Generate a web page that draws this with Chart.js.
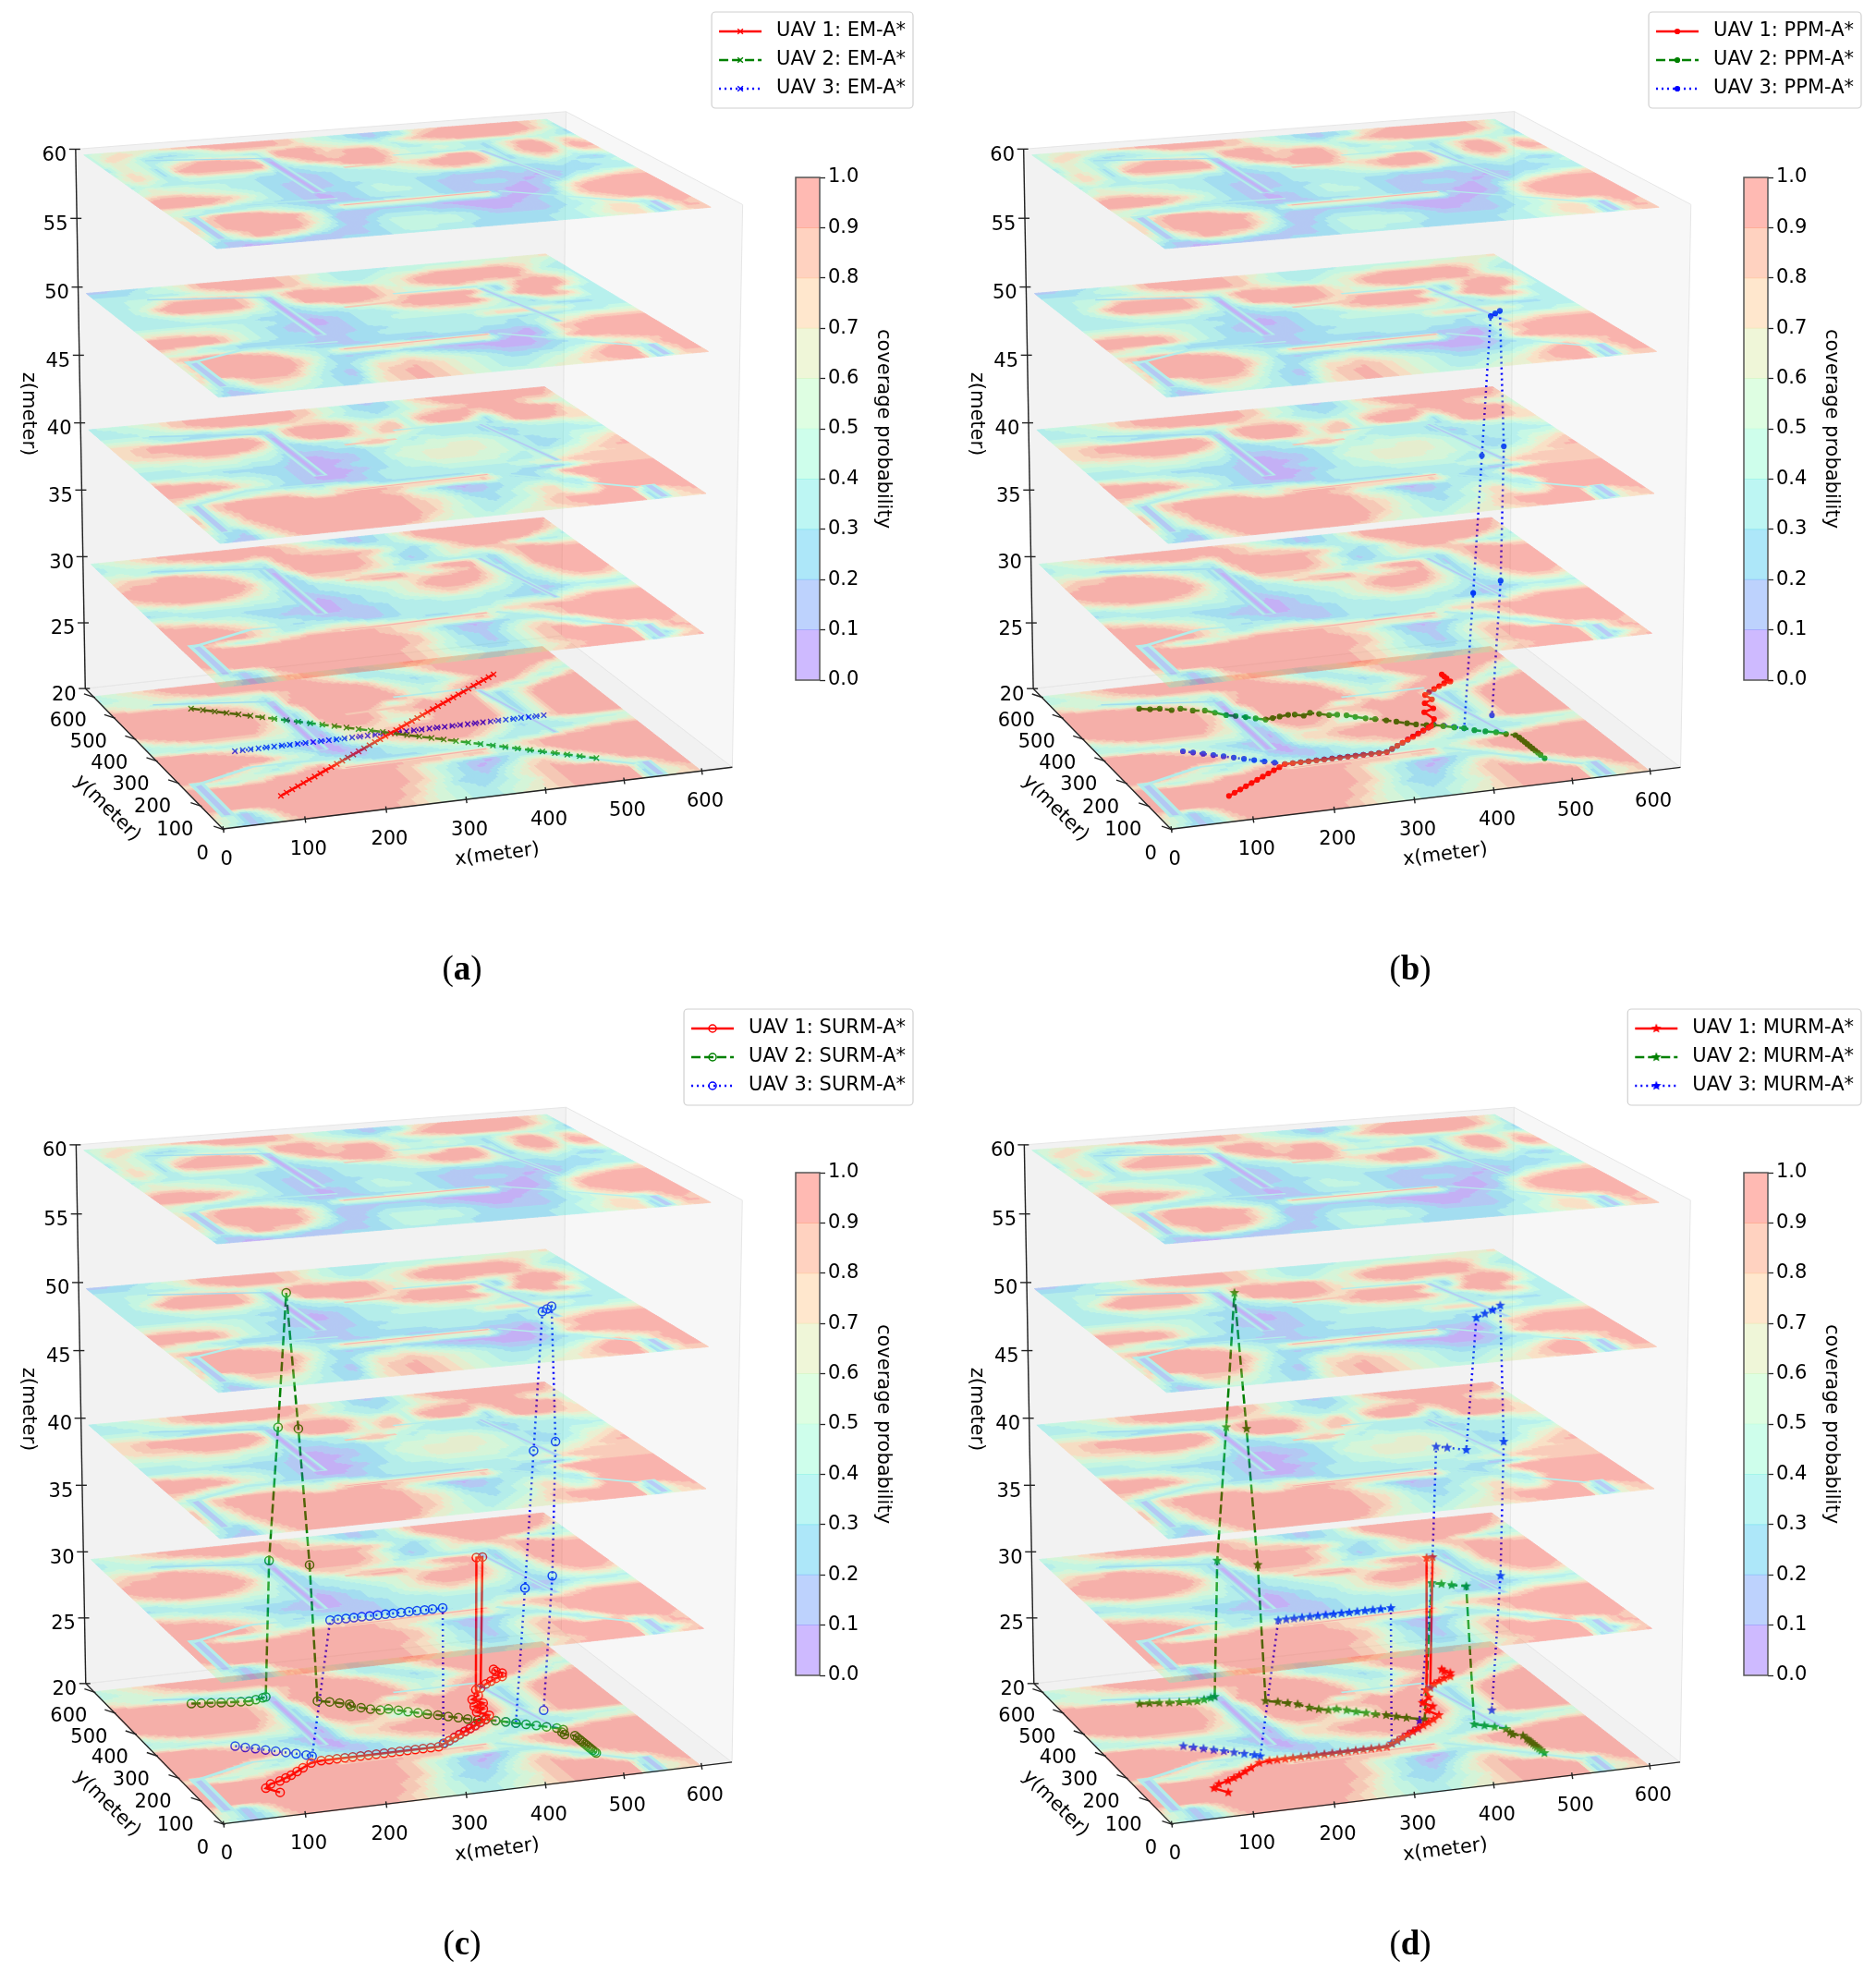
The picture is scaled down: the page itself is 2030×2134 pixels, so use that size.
<!DOCTYPE html>
<html>
<head>
<meta charset="utf-8">
<title>UAV paths over coverage maps</title>
<script src="https://cdn.jsdelivr.net/npm/chart.js"></script>
<style>
html, body { margin: 0; padding: 0; background: #fff; }
#page { position: relative; width: 2030px; height: 2134px; overflow: hidden; }
#page canvas { position: absolute; }
.cap { position: absolute; transform: translate(-50%, -50%); font: 37px "Liberation Serif", serif; color: #000; }
</style>
</head>
<body>
<div id="page"></div>
<script>
// ticks
const xTicks = [0, 100, 200, 300, 400, 500, 600];
const yTicks = [0, 100, 200, 300, 400, 500, 600];
const zTicks = [20, 25, 30, 35, 40, 45, 50, 55, 60];
const cbTicks = [0, 0.1, 0.2, 0.3, 0.4, 0.5, 0.6, 0.7, 0.8, 0.9, 1];
const cbBands = [0.1, 0.1, 0.1, 0.1, 0.1, 0.1, 0.1, 0.1, 0.1, 0.1];
const bandRgb = ['102,40,254', '51,116,248', '0,180,236', '51,227,218', '102,252,194',
                 '153,252,165', '204,227,133', '255,180,98', '255,116,59', '255,40,20'];

// coverage bands, one digit per node (0 = 0.0-0.1 ... 9 = 0.9-1.0)
// rows go from y=600 down to y=0 in 25 m steps, columns x=0..600 in 20 m steps
const coverage20 = [
"4567899999999765434568999999999",
"3456789999999876433457899999999",
"5555667888899987533346899999998",
"7654323345478999874323589999865",
"9999887654279999986433468898644",
"9999999875189999997545789985358",
"9999999986159999998546898535899",
"9999999987139999846868952479999",
"8999999986139998688999942589999",
"5789999976128998667899952589999",
"3456777765116887556999952589999",
"4433334444205667788999952588898",
"9998764321015778999998644689999",
"9999987432003567889987523344444",
"9999999754101235678875333334556",
"9999864333321233345543334678899",
"9997543478643222333445789999999",
"7543568899888888878844689999999",
"9999999999999875421023258999999",
"9999999999999875320136744799999",
"9999999999999875321357873469999",
"8999999999998764222467899845798",
"7415899999998754323457899992688",
"6413799999987654334567899991568",
"5313689999887654334667889991677"];
const coverage30 = [
"4567889999987643212368999999998",
"3456788999998754212358999999997",
"3444456788788777643346899999986",
"5543223334389988886323689999753",
"6778876433279989863224678864334",
"7888998753169989864124645788766",
"8899999863138888763333332689999",
"8999999974126776544689941589999",
"7899999864123468996567851589999",
"5678887653123345567889852479999",
"3345555443112334568999752468998",
"2333333333101233567887642357887",
"6543332221001233456765432245665",
"8776543211001123334443321123333",
"9998764332111123333333221345445",
"9999876323321123333334554678888",
"9999975345665433223457788899999",
"8874346788888777677843578899999",
"9999999999998764210123258999999",
"9999999999999875311246733799999",
"9999999999999875321357883479998",
"7899999999998764321357899983687",
"6314899999998764322357899992688",
"5413789999998765433356789992158",
"4313689999887654334567889991688"];
const coverage40 = [
"3445678999999875421247899999998",
"3344578999999875422246799999997",
"3334456788988764332346678888776",
"4443332333456776433467888888655",
"6664322223179998657489996899985",
"7789999997179998578479962799976",
"7788999998248997587433332699877",
"6777899986123345654333323345566",
"5566677654122338843433321333345",
"4444555443111223344555432333333",
"3334444332001123455566543233445",
"3333322221000123556666543223567",
"7655433221001223456665543234678",
"9998754321000123445555434456788",
"9999865321001233334444334567777",
"8875433221111233333333456788888",
"7533456654654222222333210367777",
"4378999865788877777832248999999",
"6379999999998753101233236999999",
"8368999999999865311234532799999",
"8258999999999876422346743899999",
"7357999999999876432346755899998",
"5226899999999875433457888992688",
"4215799999999765434567889991578",
"3114689999987655445666788991677"];
const coverage50 = [
"1122356899998764333344444555667",
"2223446899998754333444555566654",
"3333334679998754334567888887643",
"3344666555556765445689999998533",
"3345899986279989975689999997543",
"3358999986169989976567876678753",
"3347999985159999976544442699963",
"3334566654134688768999961799853",
"3333444433123345688999626998433",
"3333333322112233478899852588733",
"5555544332101233345666543255433",
"6776654321101233444444433322233",
"9999864321011233333336777653333",
"9999864322111223333333322233344",
"7653322222112233333333234556666",
"5544322221112222233322235678888",
"7899876432211221111111027899999",
"5899998543677777666710026899999",
"6899999752111211000000148999999",
"5899999742234543211000123678999",
"6899998532366765432111233456789",
"7358887421477876543223346893798",
"5247765321578876543334568992688",
"4125654322678876543345678991588",
"3113443323678876544456677881677"];
const coverage60 = [
"4566678999998754321236789999874",
"4676434589998754321237899999863",
"4763223456666765433578999999863",
"4653344443389976664356788887542",
"3653578876389878985334433344432",
"3652789998268978986445432688475",
"4752899999247889985433332699587",
"5762677776133589975569952799598",
"4643444433123346767899952688477",
"3433333322112333456899852475345",
"4655443322112333345676643343213",
"5665543321112333333233222232334",
"7887654321112233322111121222233",
"9999875321122343321111110122333",
"9998754321012344321122101134567",
"6544322221012333321111012367888",
"5432344321111223321110014789999",
"6579986432556666555610015899999",
"7689999852111111000000126899999",
"7689999751112221100001235789999",
"7589999741123332210011234678889",
"6468888531134444321111234653798",
"5258875311234444322222345772687",
"3113321111234433222223346771588",
"2100111122233333222223345671677"];
const layerZ = [20, 30, 40, 50, 60];
const layerRows = [coverage20, coverage30, coverage40, coverage50, coverage60];

// narrow streets too thin for the grid: [x0, y0, x1, y1, half width in metres, band]
const coverageStreets = [
  [200,495,200,262,9,3],[200,492,200,264,5,1],[200,470,200,268,2.5,0],
  [20,190,20,45,9,3],[20,185,20,50,4,1],
  [550,68,550,4,9,3],[550,64,550,6,4,1],
  [200,181,390,190,5,7],[205,181,388,190,2,9],
  [15,180,100,228,4,3],[100,228,210,222,3.5,3],
  [60,535,200,492,3.5,2],
  [272,400,340,405,4,8],
  [460,442,490,222,5,3],[460,438,490,226,2,1],
  [350,450,460,450,3.5,3],
  [400,190,536,60,3.5,3]
];

// UAV paths as [x, y, z] in metres
const emUav1 = [[100,100,20],[110,110,20],[120,120,20],[130,130,20],[140,140,20],[150,150,20],[160,160,20],[170,170,20],[180,180,20],[190,190,20],[200,200,20],[210,210,20],[220,220,20],[230,230,20],[240,240,20],[250,250,20],[260,260,20],[270,270,20],[280,280,20],[290,290,20],[300,300,20],[310,310,20],[320,320,20],[330,330,20],[340,340,20],[350,350,20],[360,360,20],[370,370,20],[380,380,20],[390,390,20],[400,400,20],[410,410,20],[420,420,20],[430,430,20],[440,440,20],[450,450,20],[460,460,20],[470,470,20],[480,480,20],[490,490,20],[500,500,20]];
const emUav2 = [[100,500,20],[112,488,20],[124,476,20],[136,464,20],[148,452,20],[160,440,20],[172,428,20],[184,416,20],[196,404,20],[208,392,20],[220,380,20],[232,368,20],[244,356,20],[256,344,20],[268,332,20],[280,320,20],[292,308,20],[304,296,20],[316,284,20],[328,272,20],[340,260,20],[352,248,20],[364,236,20],[376,224,20],[388,212,20],[400,200,20],[412,188,20],[424,176,20],[436,164,20],[448,152,20],[460,140,20],[472,128,20],[484,116,20],[500,100,20]];
const emUav3 = [[100,300,20],[110,300,20],[120,300,20],[130,300,20],[140,300,20],[150,300,20],[160,300,20],[170,300,20],[180,300,20],[190,300,20],[200,300,20],[210,300,20],[220,300,20],[230,300,20],[240,300,20],[250,300,20],[260,300,20],[270,300,20],[280,300,20],[290,300,20],[300,300,20],[310,300,20],[320,300,20],[330,300,20],[340,300,20],[350,300,20],[360,300,20],[370,300,20],[380,300,20],[390,300,20],[400,300,20],[410,300,20],[420,300,20],[430,300,20],[440,300,20],[450,300,20],[460,300,20],[470,300,20],[480,300,20],[490,300,20],[500,300,20]];

const ppmUav1 = [[100,100,20],[110,110,20],[120,120,20],[130,130,20],[140,140,20],[150,150,20],[160,160,20],[170,170,20],[180,180,20],[190,190,20],[200,200,20],[210,200,20],[220,200,20],[230,200,20],[240,200,20],[250,200,20],[260,200,20],[270,200,20],[280,200,20],[290,200,20],[300,200,20],[310,200,20],[320,200,20],[330,200,20],[340,210,20],[350,220,20],[360,230,20],[370,240,20],[380,250,20],[390,260,20],[400,270,20],[410,280,20],[415,285,20],[428,313,20],[426,346,20],[442,358,20],[439,384,20],[453,397,20],[451,419,20],[460,430,20],[470,440,20],[480,450,20],[490,460,20],[500,465,20],[500,480,20],[500,490,20],[500,500,20]];
const ppmUav2 = [[100,500,20],[112,492,20],[124,490,20],[136,478,20],[148,480,20],[160,466,20],[174,460,20],[183,446,20],[193,430,20],[203,422,20],[213,412,20],[223,402,20],[233,392,20],[243,395,20],[253,398,20],[265,401,20],[273,399,20],[282,390,20],[293,399,20],[302,390,20],[312,380,20],[322,378,20],[332,371,20],[340,360,20],[350,349,20],[360,341,20],[371,330,20],[381,320,20],[391,308,20],[400,299,20],[411,291,20],[419,289,20],[429,279,20],[440,268,20],[450,260,20],[459,247,20],[470,237,20],[481,228,20],[490,216,20],[499,207,20],[500,195,20],[500,185,20],[500,175,20],[500,165,20],[500,155,20],[500,145,20],[500,135,20],[500,125,20],[500,115,20],[500,100,20]];
const ppmUav3 = [[100,300,20],[110,290,20],[120,280,20],[130,270,20],[140,260,20],[150,250,20],[160,240,20],[170,230,20],[180,220,20],[190,210,20],[200,200,20],[210,200,20],[220,200,20],[230,200,20],[240,200,20],[250,200,20],[260,200,20],[270,200,20],[280,200,20],[290,200,20],[300,200,20],[310,200,20],[320,200,20],[330,200,20],[340,210,20],[350,220,20],[360,230,20],[370,240,20],[380,250,20],[390,260,20],[400,270,20],[410,280,20],[420,290,20],[430,280,20],[440,270,20],[450,260,20],[460,258,30],[470,258,40],[480,258,50],[490,270,50],[500,282,50],[510,292,40],[510,300,30],[500,300,20]];

const surmUav1 = [[97,94,20],[86,117,20],[96,131,20],[110,139,20],[120,148,20],[129,156,20],[140,168,20],[151,180,20],[166,196,20],[180,200,20],[190,200,20],[200,200,20],[210,200,20],[220,200,20],[230,200,20],[240,200,20],[250,200,20],[260,200,20],[270,200,20],[280,200,20],[290,200,20],[300,200,20],[310,200,20],[320,200,20],[330,200,20],[340,210,20],[350,220,20],[360,230,20],[370,240,20],[380,250,20],[390,260,20],[400,270,20],[410,280,20],[420,290,20],[430,305,20],[420,325,20],[432,335,20],[425,350,20],[440,360,20],[432,380,20],[445,395,20],[450,420,20],[450,420,30],[458,420,30],[458,425,20],[470,440,20],[480,450,20],[490,460,20],[500,465,20],[505,480,20],[500,490,20],[500,500,20]];
const surmUav2 = [[100,500,20],[112,497,20],[124,494,20],[136,490,20],[148,487,20],[160,484,20],[170,482,20],[180,486,20],[190,490,20],[195,493,20],[205,508,30],[215,498,40],[222,482,50],[236,480,40],[246,468,30],[250,450,20],[263,440,20],[273,430,20],[283,420,20],[282,410,20],[292,400,20],[301,389,20],[311,380,20],[322,381,20],[332,371,20],[341,360,20],[351,350,20],[360,340,20],[371,331,20],[381,320,20],[391,310,20],[400,300,20],[410,290,20],[420,290,20],[430,280,20],[440,270,20],[450,260,20],[460,250,20],[470,240,20],[480,230,20],[490,220,20],[495,210,20],[490,200,20],[490,190,20],[500,180,20],[500,170,20],[500,162,20],[500,155,20],[500,148,20],[500,141,20],[500,134,20],[500,127,20],[500,120,20],[500,113,20],[500,106,20],[500,100,20]];
const surmUav3 = [[100,300,20],[110,290,20],[120,280,20],[130,270,20],[140,260,20],[150,250,20],[160,240,20],[170,230,20],[175,222,20],[195,210,30],[205,210,30],[215,210,30],[225,210,30],[235,210,30],[245,210,30],[255,210,30],[265,210,30],[275,210,30],[285,210,30],[295,210,30],[305,210,30],[315,210,30],[325,210,30],[338,210,30],[340,212,20],[350,220,20],[360,230,20],[370,240,20],[380,250,20],[390,260,20],[400,270,20],[410,280,20],[420,290,20],[430,280,20],[440,270,20],[450,260,20],[460,258,30],[470,258,40],[480,258,50],[490,270,50],[500,282,50],[510,292,40],[510,300,30],[500,300,20]];

const murmUav1 = [[97,94,20],[86,117,20],[96,131,20],[110,139,20],[120,148,20],[129,156,20],[140,168,20],[151,180,20],[166,196,20],[180,200,20],[190,200,20],[200,200,20],[210,200,20],[220,200,20],[230,200,20],[240,200,20],[250,200,20],[260,200,20],[270,200,20],[280,200,20],[290,200,20],[300,200,20],[310,200,20],[320,200,20],[330,200,20],[340,210,20],[350,220,20],[360,230,20],[370,240,20],[380,250,20],[390,260,20],[400,270,20],[410,280,20],[420,290,20],[432,305,20],[425,330,20],[437,345,20],[430,365,20],[445,385,20],[452,418,20],[452,418,30],[460,418,30],[460,425,20],[470,440,20],[480,450,20],[490,460,20],[500,465,20],[505,480,20],[500,490,20],[500,500,20]];
const murmUav2 = [[100,500,20],[112,497,20],[124,494,20],[136,490,20],[148,487,20],[160,484,20],[170,482,20],[180,486,20],[190,490,20],[196,493,20],[205,508,30],[215,498,40],[222,482,50],[236,480,40],[246,468,30],[250,450,20],[263,440,20],[273,430,20],[283,420,20],[292,400,20],[301,389,20],[311,380,20],[322,381,20],[332,371,20],[341,360,20],[351,350,20],[360,340,20],[371,331,20],[381,320,20],[391,310,20],[410,295,20],[420,300,30],[430,292,30],[440,282,30],[455,270,30],[460,250,20],[470,240,20],[480,230,20],[490,216,20],[490,200,20],[490,190,20],[500,180,20],[500,165,20],[500,158,20],[500,150,20],[500,142,20],[500,135,20],[500,128,20],[500,120,20],[500,112,20],[500,100,20]];
const murmUav3 = [[100,300,20],[110,290,20],[120,280,20],[130,270,20],[140,260,20],[150,250,20],[160,240,20],[170,230,20],[175,222,20],[195,210,30],[205,210,30],[215,210,30],[225,210,30],[235,210,30],[245,210,30],[255,210,30],[265,210,30],[275,210,30],[285,210,30],[295,210,30],[305,210,30],[315,210,30],[325,210,30],[338,210,30],[340,212,20],[350,220,20],[360,230,20],[370,240,20],[380,250,20],[390,260,20],[402,292,20],[420,300,30],[425,300,40],[436,290,40],[454,270,40],[453,232,50],[470,250,50],[485,265,50],[502,286,50],[510,292,40],[510,300,30],[500,300,20]];

const uavColors = ['#ff0000', '#008000', '#0000ff'];
const uavDash = [[], [10, 4], [2, 4]];

// filled five point star, the library's own 'star' is only crossed lines
function starMarker(color) {
  const c = document.createElement('canvas');
  c.width = c.height = 12;
  const g = c.getContext('2d');
  g.beginPath();
  for (let i = 0; i < 10; i++) {
    const r = i % 2 ? 2.4 : 5.6, a = -Math.PI / 2 + i * Math.PI / 5;
    g.lineTo(6 + r * Math.cos(a), 6 + r * Math.sin(a));
  }
  g.closePath();
  g.fillStyle = color;
  g.fill();
  return c;
}
const stars = uavColors.map(starMarker);

const panels = [
  { tag: 'a', method: 'EM-A*', left: 0, top: 0, legendTop: 13, capY: 1047, paths: [emUav1, emUav2, emUav3], marker: { pointStyle: 'crossRot', pointRadius: 4, pointBorderWidth: 1.4 } },
  { tag: 'b', method: 'PPM-A*', left: 1026, top: 0, legendTop: 13, capY: 1047, paths: [ppmUav1, ppmUav2, ppmUav3], marker: { pointStyle: 'circle', pointRadius: 2.5, pointBorderWidth: 1.2 } },
  { tag: 'c', method: 'SURM-A*', left: 0, top: 1077, legendTop: 15, capY: 2102, paths: [surmUav1, surmUav2, surmUav3], marker: { pointStyle: 'circle', pointRadius: 4.5, pointBorderWidth: 1.5, hollow: true } },
  { tag: 'd', method: 'MURM-A*', left: 1026, top: 1077, legendTop: 15, capY: 2102, paths: [murmUav1, murmUav2, murmUav3], marker: { pointStyle: stars, pointRadius: 5, pointBorderWidth: 1 } }
];

const W = 1004, H = 1057;
const FONT = '"DejaVu Sans"';

// screen position of known box and layer corners, used to fit the camera
const cameraFit = [
  [0,0,20,239,901],[600,0,20,761,838],[0,600,20,100,758],[600,600,20,586,704],
  [0,0,60,229,266],[600,0,60,770,221],[0,600,60,88,163],[600,600,60,595,128],
  [640,0,20,800,831],[0,640,60,77,158],[640,640,60,614,113],[640,0,60,807,220],
  [0,640,20,85,746],[640,640,20,606,688]
];

function solve(A, b) {
  const n = b.length;
  for (let i = 0; i < n; i++) {
    let p = i;
    for (let r = i + 1; r < n; r++) if (Math.abs(A[r][i]) > Math.abs(A[p][i])) p = r;
    [A[i], A[p]] = [A[p], A[i]]; [b[i], b[p]] = [b[p], b[i]];
    for (let r = i + 1; r < n; r++) {
      const f = A[r][i] / A[i][i];
      for (let c = i; c < n; c++) A[r][c] -= f * A[i][c];
      b[r] -= f * b[i];
    }
  }
  const out = new Array(n).fill(0);
  for (let i = n - 1; i >= 0; i--) {
    let s = b[i];
    for (let c = i + 1; c < n; c++) s -= A[i][c] * out[c];
    out[i] = s / A[i][i];
  }
  return out;
}

function fitCamera() {
  const N = Array.from({ length: 11 }, () => new Array(11).fill(0));
  const r = new Array(11).fill(0);
  const add = (row, v) => {
    for (let i = 0; i < 11; i++) {
      r[i] += row[i] * v;
      for (let j = 0; j < 11; j++) N[i][j] += row[i] * row[j];
    }
  };
  cameraFit.forEach(([x, y, z, sx, sy]) => {
    const X = x / 600, Y = y / 600, Z = (z - 20) / 40;
    add([X, Y, Z, 1, 0, 0, 0, 0, -sx * X, -sx * Y, -sx * Z], sx);
    add([0, 0, 0, 0, X, Y, Z, 1, -sy * X, -sy * Y, -sy * Z], sy);
  });
  return solve(N, r);
}
const cam = fitCamera();

// metres to the chart's flat x/y value space
function project(x, y, z) {
  const X = x / 600, Y = y / 600, Z = (z - 20) / 40;
  const d = cam[8] * X + cam[9] * Y + cam[10] * Z + 1;
  return {
    x: (cam[0] * X + cam[1] * Y + cam[2] * Z + cam[3]) / d,
    y: (cam[4] * X + cam[5] * Y + cam[6] * Z + cam[7]) / d
  };
}

const layerCache = {};
function buildLayer(chart, rows, z) {
  if (layerCache[z]) return layerCache[z];
  const c = document.createElement('canvas');
  c.width = W; c.height = H;
  const g = c.getContext('2d');
  const nx = rows[0].length - 1, ny = rows.length - 1, sub = 4;
  const xs = chart.scales.x, ys = chart.scales.y;
  const toPx = (x, y) => {
    const p = project(x, y, z);
    return [xs.getPixelForValue(p.x), ys.getPixelForValue(p.y)];
  };
  const node = [];
  for (let j = 0; j <= ny * sub; j++) {
    node[j] = [];
    for (let i = 0; i <= nx * sub; i++) node[j][i] = toPx(600 * i / (nx * sub), 600 * (1 - j / (ny * sub)));
  }
  const val = (r, k) => Number(rows[r][k]) + 0.5;
  const paths = bandRgb.map(() => new Path2D());
  for (let j = 0; j < ny * sub; j++) {
    for (let i = 0; i < nx * sub; i++) {
      const gx = (i + 0.5) / sub, gy = (j + 0.5) / sub;
      const i0 = Math.floor(gx), j0 = Math.floor(gy), fx = gx - i0, fy = gy - j0;
      let v = val(j0, i0) * (1 - fx) * (1 - fy) + val(j0, i0 + 1) * fx * (1 - fy) +
              val(j0 + 1, i0) * (1 - fx) * fy + val(j0 + 1, i0 + 1) * fx * fy;
      // the 25 m grid flattens the peaks, keep the high bands as wide as in the figure
      if (v > 6) v += (v - 6) * 0.25;
      const b = paths[Math.min(9, Math.max(0, Math.floor(v)))];
      b.moveTo(node[j][i][0], node[j][i][1]);
      b.lineTo(node[j][i + 1][0], node[j][i + 1][1]);
      b.lineTo(node[j + 1][i + 1][0], node[j + 1][i + 1][1]);
      b.lineTo(node[j + 1][i][0], node[j + 1][i][1]);
      b.closePath();
    }
  }
  paths.forEach((p, k) => {
    g.fillStyle = g.strokeStyle = 'rgb(' + bandRgb[k] + ')';
    g.lineWidth = 0.8;
    g.fill(p); g.stroke(p);
  });
  coverageStreets.forEach(([x0, y0, x1, y1, hw, band]) => {
    const len = Math.hypot(x1 - x0, y1 - y0), nxv = -(y1 - y0) / len * hw, nyv = (x1 - x0) / len * hw;
    const q = [toPx(x0 + nxv, y0 + nyv), toPx(x1 + nxv, y1 + nyv), toPx(x1 - nxv, y1 - nyv), toPx(x0 - nxv, y0 - nyv)];
    g.beginPath();
    q.forEach((p, i) => i ? g.lineTo(p[0], p[1]) : g.moveTo(p[0], p[1]));
    g.closePath();
    g.fillStyle = 'rgb(' + bandRgb[band] + ')';
    g.fill();
  });
  layerCache[z] = c;
  return c;
}

function text(ctx, s, x, y, rot, size) {
  ctx.save();
  ctx.translate(x, y);
  if (rot) ctx.rotate(rot * Math.PI / 180);
  ctx.font = (size || 21) + 'px ' + FONT;
  ctx.fillStyle = '#000';
  ctx.textAlign = 'center';
  ctx.textBaseline = 'middle';
  ctx.fillText(s, 0, 0);
  ctx.restore();
}

function plot3d(panel) {
  return {
    id: 'plot3d',
    beforeDatasetsDraw(chart) {
      const ctx = chart.ctx;
      const px = (x, y, z) => { const p = project(x, y, z); return [chart.scales.x.getPixelForValue(p.x), chart.scales.y.getPixelForValue(p.y)]; };
      const poly = (pts, fill) => {
        ctx.beginPath();
        pts.forEach((p, i) => i ? ctx.lineTo(p[0], p[1]) : ctx.moveTo(p[0], p[1]));
        ctx.closePath();
        ctx.fillStyle = fill; ctx.fill();
        ctx.strokeStyle = '#e6e6e6'; ctx.lineWidth = 1; ctx.stroke();
      };
      poly([px(0,0,20), px(640,0,20), px(640,640,20), px(0,640,20)], '#f1f1f1');
      poly([px(0,640,20), px(640,640,20), px(640,640,60), px(0,640,60)], '#f2f2f2');
      poly([px(640,640,20), px(640,0,20), px(640,0,60), px(640,640,60)], '#f7f7f7');
    },
    afterDatasetsDraw(chart) {
      const ctx = chart.ctx;
      const px = (x, y, z) => { const p = project(x, y, z); return [chart.scales.x.getPixelForValue(p.x), chart.scales.y.getPixelForValue(p.y)]; };
      // maps go over the paths, that is how the paths get tinted in the figure
      ctx.save();
      ctx.globalAlpha = 0.32;
      layerZ.forEach((z, k) => ctx.drawImage(buildLayer(chart, layerRows[k], z), 0, 0));
      ctx.restore();

      const seg = (a, b) => { ctx.beginPath(); ctx.moveTo(a[0], a[1]); ctx.lineTo(b[0], b[1]); ctx.stroke(); };
      ctx.strokeStyle = '#222';
      ctx.lineWidth = 1.4;
      seg(px(0,0,20), px(640,0,20));
      seg(px(0,0,20), px(0,640,20));
      seg(px(0,640,20), px(0,640,60));
      xTicks.forEach(v => {
        const a = px(v, 0, 20);
        seg([a[0], a[1] - 3], [a[0] + 1, a[1] + 4]);
        text(ctx, String(v), a[0] + 4, a[1] + 33);
      });
      yTicks.forEach(v => {
        const a = px(0, v, 20);
        seg([a[0] - 10, a[1] - 3], [a[0] + 2, a[1] + 1]);
        text(ctx, String(v), a[0] - 22 - (v ? 5 : 0), a[1] + 27);
      });
      zTicks.forEach(v => {
        const a = px(0, 640, v);
        seg([a[0] - 7, a[1]], [a[0] + 5, a[1]]);
        text(ctx, String(v), a[0] - 23, a[1] + 7);
      });
      text(ctx, 'x(meter)', 538, 925, -7);
      text(ctx, 'y(meter)', 116, 875, 45);
      text(ctx, 'z(meter)', 30, 448, 90);
      drawLegend(ctx, panel);
    }
  };
}

function drawLegend(ctx, panel) {
  ctx.save();
  ctx.font = '21px ' + FONT;
  const labels = panel.paths.map((p, i) => 'UAV ' + (i + 1) + ': ' + panel.method);
  const tw = Math.max(...labels.map(s => ctx.measureText(s).width));
  const right = 988, top = panel.legendTop, rowH = 31;
  const left = right - (8 + 46 + 16 + tw + 8);
  ctx.beginPath();
  ctx.roundRect(left, top, right - left, 104, 4);
  ctx.fillStyle = 'rgba(255,255,255,0.8)';
  ctx.fill();
  ctx.strokeStyle = '#d0d0d0';
  ctx.lineWidth = 1.2;
  ctx.stroke();
  labels.forEach((s, i) => {
    const y = top + 21 + i * rowH;
    ctx.strokeStyle = uavColors[i];
    ctx.lineWidth = 2.5;
    ctx.setLineDash(uavDash[i]);
    ctx.beginPath(); ctx.moveTo(left + 8, y); ctx.lineTo(left + 54, y); ctx.stroke();
    ctx.setLineDash([]);
    ctx.lineWidth = panel.marker.pointBorderWidth;
    ctx.fillStyle = panel.marker.hollow ? 'rgba(0,0,0,0)' : uavColors[i];
    const style = Array.isArray(panel.marker.pointStyle) ? panel.marker.pointStyle[i] : panel.marker.pointStyle;
    Chart.helpers.drawPoint(ctx, { pointStyle: style, radius: Math.min(panel.marker.pointRadius, 4), borderWidth: panel.marker.pointBorderWidth, rotation: 0 }, left + 31, y);
    ctx.fillStyle = '#000';
    ctx.textAlign = 'left';
    ctx.textBaseline = 'middle';
    ctx.fillText(s, left + 70, y);
  });
  ctx.restore();
}

const page = document.getElementById('page');
function addCanvas(left, top, w, h) {
  const c = document.createElement('canvas');
  c.width = w; c.height = h;
  c.style.left = left + 'px'; c.style.top = top + 'px';
  c.style.width = w + 'px'; c.style.height = h + 'px';
  page.appendChild(c);
  return c;
}

panels.forEach(panel => {
  const datasets = panel.paths.map((path, i) => ({
    data: path.map(p => project(p[0], p[1], p[2])),
    showLine: true,
    clip: false,
    borderColor: uavColors[i],
    borderWidth: 2.5,
    borderDash: uavDash[i],
    pointStyle: Array.isArray(panel.marker.pointStyle) ? panel.marker.pointStyle[i] : panel.marker.pointStyle,
    pointRadius: panel.marker.pointRadius,
    pointBorderWidth: panel.marker.pointBorderWidth,
    pointBorderColor: uavColors[i],
    pointBackgroundColor: panel.marker.hollow ? 'rgba(0,0,0,0)' : uavColors[i]
  }));

  new Chart(addCanvas(panel.left, panel.top, W, H), {
    type: 'scatter',
    data: { datasets: datasets },
    plugins: [plot3d(panel)],
    options: {
      responsive: false,
      animation: false,
      devicePixelRatio: 1,
      layout: { padding: 0 },
      plugins: { legend: { display: false }, tooltip: { enabled: false } },
      scales: {
        x: { type: 'linear', min: 0, max: W, display: false },
        y: { type: 'linear', min: 0, max: H, reverse: true, display: false }
      }
    }
  });

  // colour bar: ten stacked bands on a real value axis
  new Chart(addCanvas(panel.left + 840, panel.top + 160, 128, 600), {
    type: 'bar',
    data: {
      labels: [''],
      datasets: cbBands.map((v, k) => ({
        data: [v],
        backgroundColor: 'rgba(' + bandRgb[k] + ',0.32)',
        borderWidth: 0,
        barPercentage: 1,
        categoryPercentage: 1
      }))
    },
    plugins: [{
      id: 'cbOutline',
      afterDatasetsDraw(chart) {
        const a = chart.chartArea, ctx = chart.ctx;
        ctx.save();
        ctx.strokeStyle = '#555';
        ctx.lineWidth = 1.5;
        ctx.strokeRect(a.left, a.top, a.right - a.left, a.bottom - a.top);
        ctx.restore();
      }
    }],
    options: {
      responsive: false,
      animation: false,
      devicePixelRatio: 1,
      layout: { padding: { left: 21, top: 32, bottom: 24, right: 0 } },
      plugins: { legend: { display: false }, tooltip: { enabled: false } },
      scales: {
        x: { stacked: true, display: false },
        y: {
          stacked: true,
          position: 'right',
          min: 0,
          max: 1,
          afterBuildTicks(scale) { scale.ticks = cbTicks.map(v => ({ value: v })); },
          afterFit(scale) { scale.width = 81; },
          grid: { drawOnChartArea: false, tickLength: 6, tickColor: '#222', tickWidth: 1.3 },
          border: { display: false },
          ticks: { color: '#000', font: { family: FONT, size: 21 }, padding: 3, callback: v => v.toFixed(1), autoSkip: false },
          title: { display: true, text: 'coverage probability', color: '#000', font: { family: FONT, size: 21 }, padding: { top: 0, bottom: 0 } }
        }
      }
    }
  });

  const cap = document.createElement('div');
  cap.className = 'cap';
  cap.style.left = (panel.left + 500) + 'px';
  cap.style.top = panel.capY + 'px';
  cap.innerHTML = '(<b>' + panel.tag + '</b>)';
  page.appendChild(cap);
});
</script>
</body>
</html>
